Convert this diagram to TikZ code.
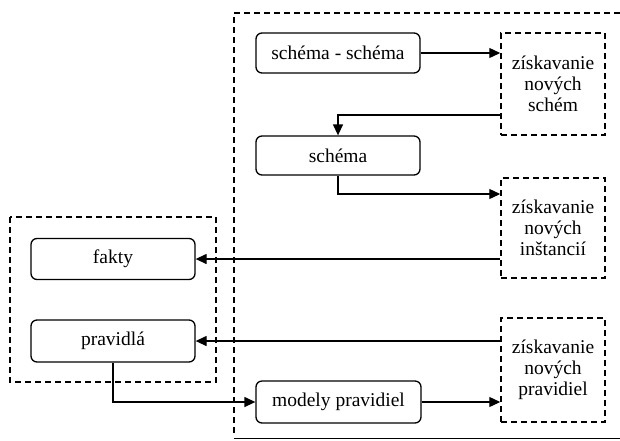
\documentclass[tikz,border=0pt]{standalone}
\usepackage{fontspec}
\setmainfont{Liberation Serif}
\usetikzlibrary{arrows.meta}
\begin{document}
\begin{tikzpicture}[x=1pt,y=-1pt,
  every node/.style={font=\fontsize{19.5}{21}\selectfont},
  solidbox/.style={draw,line width=1.3pt,rounded corners=6pt,minimum width=164pt,minimum height=40pt,inner sep=0pt},
  dashbox/.style={draw,line width=1.5pt,dash pattern=on 6pt off 4pt,minimum width=104pt,minimum height=102pt,inner sep=0pt,align=center},
  conn/.style={line width=1.3pt,-{Triangle[length=11pt,width=10pt]}},
  frame/.style={line width=1.4pt,dash pattern=on 6pt off 4pt}]
\useasboundingbox (0,0) rectangle (620,440);
% frames
\draw[frame] (620,13) -- (234,13) -- (234,436);
\draw[line width=0.8pt] (234,438) -- (620,438);
\draw[frame] (10,217) rectangle (216,382);
% nodes
\node[solidbox] (ss) at (338,53) {schéma - schéma};
\node[solidbox,minimum height=39pt] (sch) at (338,155.5) {schéma};
\node[dashbox] (zns) at (553,84) {získavanie\\nových\\schém};
\node[dashbox,minimum height=100pt] (zni) at (553,228) {získavanie\\nových\\inštancií};
\node[solidbox,minimum height=41pt] (fak) at (113,259) {fakty};
\node[solidbox,minimum height=42pt] (pra) at (113,341) {pravidlá};
\node[dashbox,minimum height=104pt] (znp) at (553,370) {získavanie\\nových\\pravidiel};
\node[solidbox,minimum width=165pt,minimum height=42pt] (mod) at (338.5,402) {modely pravidiel};
% connectors
\draw[conn] (ss.east) -- (zns.west |- ss.east);
\draw[conn] ([yshift=-31pt]zns.west) -| (sch.north);
\draw[conn] (sch.south) |- ([yshift=34pt]zni.west);
\draw[conn] (zni.west |- fak.east) -- (fak.east);
\draw[conn] (znp.west |- pra.east) -- (pra.east);
\draw[conn] (pra.south) |- (mod.west);
\draw[conn] (mod.east) -- (znp.west |- mod.east);
\end{tikzpicture}
\end{document}
